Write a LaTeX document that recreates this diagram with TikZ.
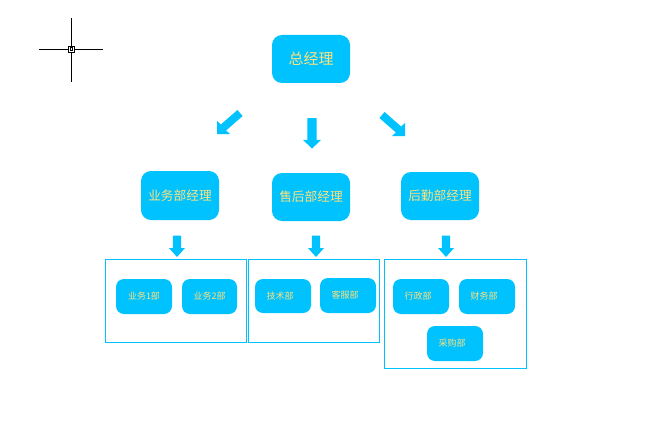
\documentclass[tikz,border=0pt]{standalone}
\usepackage{fontspec}
\newfontfamily\cjk{Noto Sans CJK SC}
\definecolor{boxblue}{HTML}{00C2FF}
\definecolor{txtgold}{HTML}{FFE27A}
\tikzset{
  mgr/.style={draw=none, fill=boxblue, rounded corners=10pt, minimum width=78pt, minimum height=48pt, inner sep=0pt, text=txtgold, font=\cjk\fontsize{12.7}{15}\selectfont},
  dept/.style={draw=none, fill=boxblue, rounded corners=8pt, minimum width=56pt, minimum height=35pt, inner sep=0pt, text=txtgold, font=\cjk\fontsize{9}{10}\selectfont},
  leftish/.style={execute at begin node={\hspace*{-6pt}}},
  group/.style={draw=boxblue, line width=0.8pt, fill=none, inner sep=0pt},
  arr/.style={fill=boxblue, draw=none},
  diagarrow/.pic={\fill[arr] (-20.4,-24) -- (-3.9,-9.5) -- (0,-13) -- (0,0) -- (-13,0) -- (-9.1,-3.5) -- (-25.6,-18) -- cycle;}
}
\begin{document}
\begin{tikzpicture}[x=1pt,y=-1pt]
\useasboundingbox (0,0) rectangle (655,425);
\fill[white] (0,0) rectangle (655,425);
% crosshair cursor
\coordinate (cur) at (71,49);
\draw[black, line width=0.9pt] (39,49) -- (103,49);
\draw[black, line width=0.9pt] (71,18) -- (71,82);
\node[draw=black, fill=white, line width=0.7pt, minimum size=6pt, inner sep=0pt] (cursq) at (cur) {};
\node[draw=black, line width=0.5pt, minimum size=2.5pt, inner sep=0pt] (cursq2) at (cur) {};
% top manager
\node[mgr, font=\cjk\fontsize{15}{17}\selectfont] (gm) at (311,59) {总经理};
% second level
\node[mgr, minimum height=49pt] (m1) at (180,195.5) {业务部经理};
\node[mgr] (m2) at (311,197) {售后部经理};
\node[mgr] (m3) at (440,196) {后勤部经理};
% arrows from top
\coordinate (ta) at (312,148.7);
\fill[arr, shift={(ta)}] (-4.7,-30.7) -- (4.7,-30.7) -- (4.7,-8.8) -- (8.9,-8.8) -- (0,0) -- (-8.9,-8.8) -- (-4.7,-8.8) -- cycle;
\coordinate (tl) at (217,134);
\pic[xscale=-1] at (tl) {diagarrow};
\coordinate (tr) at (405,136);
\pic at (tr) {diagarrow};
% group frames
\node[group, minimum width=141pt, minimum height=83pt] (g1) at (175.5,300.5) {};
\node[group, minimum width=131pt, minimum height=83pt] (g2) at (313.5,300.5) {};
\node[group, minimum width=142pt, minimum height=109pt] (g3) at (455,313.5) {};
% lower arrows
\coordinate (la) at (177,257);
\coordinate (lb) at (316,257);
\coordinate (lc) at (446,257);
\foreach \c in {la,lb,lc}{
  \fill[arr, shift={(\c)}] (-4.2,-21.3) -- (4.2,-21.3) -- (4.2,-9) -- (8,-9) -- (0,0) -- (-8,-9) -- (-4.2,-9) -- cycle;
}
% departments
\node[dept] (d1) at (144,296.5) {业务1部};
\node[dept, minimum width=55pt] (d2) at (209.5,296.5) {业务2部};
\node[dept, leftish, minimum height=34pt] (d3) at (283,296) {技术部};
\node[dept, leftish] (d4) at (348,295.5) {客服部};
\node[dept, leftish] (d5) at (421,296.5) {行政部};
\node[dept, leftish] (d6) at (487,296.5) {财务部};
\node[dept, leftish] (d7) at (455,343.5) {采购部};
\end{tikzpicture}
\end{document}
